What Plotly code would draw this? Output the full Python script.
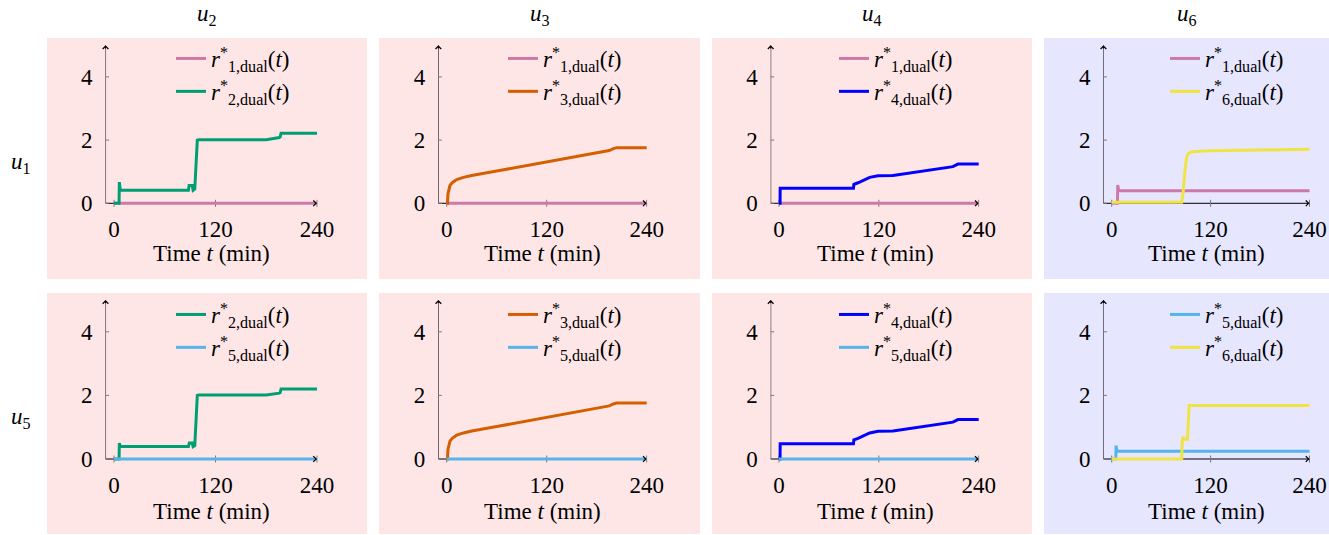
import plotly.graph_objects as go

# ---------------------------------------------------------------- data
X_TICKS = [0, 120, 240]
Y_TICKS = [0, 2, 4]
X_MIN, X_MAX, Y_MIN, Y_MAX = -10, 240, 0, 5

col_heads = ["2", "3", "4", "6"]
row_heads = ["1", "5"]

# zero rate over the whole horizon
t_zero = [0, 240]
r_zero = [0, 0]

# r2 (row u1)
t_r2_u1 = [0, 6, 6.3, 7.5, 88, 88.8, 92.5, 93.5, 95.5, 98.5, 100, 180, 195.5, 196.5, 197.5, 240]
r2_u1 = [0, 0, 0.67, 0.41, 0.41, 0.56, 0.56, 0.41, 0.45, 2.0, 2.01, 2.01, 2.08, 2.1, 2.22, 2.22]
# r2 (row u5)
t_r2_u5 = [0, 6, 6.3, 7.5, 88, 89, 92.5, 93.5, 95.5, 98.5, 100, 180, 195.5, 196.5, 197.5, 240]
r2_u5 = [0, 0, 0.5, 0.39, 0.39, 0.5, 0.5, 0.39, 0.42, 2.0, 2.01, 2.01, 2.07, 2.09, 2.2, 2.2]

# r3
t_r3 = [0, 1, 1.5, 2.5, 4, 7, 12, 20, 30, 60, 90, 120, 150, 180, 195, 200, 204, 240]
r3 = [0, 0, 0.3, 0.45, 0.57, 0.66, 0.75, 0.82, 0.88, 1.02, 1.16, 1.3, 1.44, 1.58, 1.67, 1.73, 1.76, 1.76]

# r4
t_r4 = [0, 1.3, 1.4, 89.5, 90, 95, 109, 119, 137, 209, 215, 240]
r4 = [0, 0, 0.48, 0.48, 0.6, 0.65, 0.82, 0.87, 0.88, 1.16, 1.24, 1.24]

# r1 (column u6)
t_r1_u6 = [0, 7, 7.3, 8.5, 240]
r1_u6 = [0, 0, 0.58, 0.4, 0.4]

# r6 (row u1)
t_r6_u1 = [0, 85, 86.5, 88, 89.5, 91, 93, 96, 100, 120, 180, 240]
r6_u1 = [0.03, 0.03, 0.3, 0.8, 1.2, 1.45, 1.57, 1.62, 1.64, 1.66, 1.68, 1.71]

# r5 (column u6)
t_r5_u6 = [0, 5, 5.3, 6.5, 240]
r5_u6 = [0, 0, 0.42, 0.24, 0.24]

# r6 (row u5)
t_r6_u5 = [0, 85, 85.5, 86.5, 87.5, 92, 93, 94, 240]
r6_u5 = [0, 0, 0.55, 0.7, 0.62, 0.62, 1.2, 1.68, 1.68]

C = {1: "#CC79A7", 2: "#009E73", 3: "#D55E00", 4: "#0000FF", 5: "#56B4E9", 6: "#F0E442"}

# (row, col, [(rate index, times, values), ...])
panels = [
    (0, 0, [(1, t_zero, r_zero), (2, t_r2_u1, r2_u1)]),
    (0, 1, [(1, t_zero, r_zero), (3, t_r3, r3)]),
    (0, 2, [(1, t_zero, r_zero), (4, t_r4, r4)]),
    (0, 3, [(1, t_r1_u6, r1_u6), (6, t_r6_u1, r6_u1)]),
    (1, 0, [(2, t_r2_u5, r2_u5), (5, t_zero, r_zero)]),
    (1, 1, [(3, t_r3, r3), (5, t_zero, r_zero)]),
    (1, 2, [(4, t_r4, r4), (5, t_zero, r_zero)]),
    (1, 3, [(5, t_r5_u6, r5_u6), (6, t_r6_u5, r6_u5)]),
]

# ---------------------------------------------------------------- geometry
W, H = 1329, 535
FONT = "Liberation Serif, Times New Roman, DejaVu Serif, serif"
FS = 23
PINK, LAVENDER = "#FFE6E6", "#E6E6FF"

col_x0 = [114, 446.7, 779, 1111.7]        # pixel of t = 0
col_x240 = [317, 646.7, 978.7, 1309.5]    # pixel of t = 240
row_y0 = [203.3, 459.0]                   # pixel of value 0
row_unit = [31.6, 31.8]                   # pixels per unit
bg_cols = [(47, 367), (379, 700), (712, 1032), (1044, 1329)]
bg_rows = [(38, 279), (293, 534)]
legend_text_x = [213, 545, 876, 1207]
legend_top = [37, 293]
head_y = 15
xtitle_y = [254, 511]
rowlab_y = [163, 418]
XR = [X_MIN, 241]
YR = [-0.15, 5.05]


def px(p):
    return p / W


def py(p):
    return 1 - p / H


fig = go.Figure()
layout = dict(
    width=W, height=H, autosize=False, margin=dict(l=0, r=0, t=0, b=0, autoexpand=False),
    paper_bgcolor="white", plot_bgcolor="rgba(0,0,0,0)",
    font=dict(family=FONT, size=FS, color="black"),
    showlegend=True,
)
shapes, annotations = [], []

# panel backgrounds
for r, (y0, y1) in enumerate(bg_rows):
    for c, (x0, x1) in enumerate(bg_cols):
        shapes.append(dict(type="rect", xref="paper", yref="paper",
                           x0=px(x0), x1=px(x1), y0=py(y1), y1=py(y0),
                           fillcolor=LAVENDER if c == 3 else PINK,
                           line=dict(width=0), layer="below"))

for i, (r, c, series) in enumerate(panels, start=1):
    sfx = "" if i == 1 else str(i)
    xa, ya = "x" + sfx, "y" + sfx
    lg = "legend" + sfx
    s = (col_x240[c] - col_x0[c]) / 240.0
    u = row_unit[r]
    dom_x = [px(col_x0[c] + s * XR[0]), px(col_x0[c] + s * XR[1])]
    dom_y = [py(row_y0[r] - YR[0] * u), py(row_y0[r] - YR[1] * u)]

    layout["xaxis" + sfx] = dict(domain=dom_x, range=XR, anchor=ya, tickvals=X_TICKS,
                                 ticks="", showgrid=False, zeroline=False, showline=False,
                                 ticklabelstandoff=5, automargin=False,
                                 tickfont=dict(family=FONT, size=FS, color="black"))
    layout["yaxis" + sfx] = dict(domain=dom_y, range=YR, anchor=xa, tickvals=Y_TICKS,
                                 ticks="", showgrid=False, zeroline=False, showline=False,
                                 ticklabelstandoff=12, automargin=False,
                                 tickfont=dict(family=FONT, size=FS, color="black"))

    for k, t, v in series:
        fig.add_trace(go.Scatter(
            x=t, y=v, mode="lines", xaxis=xa, yaxis=ya, legend=lg,
            line=dict(color=C[k], width=3),
            name=f"<i>r</i><sup>*</sup><sub>{k},dual</sub>(<i>t</i>)",
        ))

    layout[lg] = dict(x=px(legend_text_x[c] - 42), y=py(legend_top[r]),
                      xref="container", yref="container",
                      xanchor="left", yanchor="top", bgcolor="rgba(0,0,0,0)",
                      borderwidth=0, font=dict(family=FONT, size=FS, color="black"),
                      tracegroupgap=0)

    # axis lines
    shapes.append(dict(type="line", xref=xa, yref=ya, x0=X_MIN, x1=X_MAX, y0=0, y1=0,
                       line=dict(color="black", width=1), layer="below"))
    shapes.append(dict(type="line", xref=xa, yref=ya, x0=X_MIN, x1=X_MIN, y0=Y_MIN, y1=Y_MAX,
                       line=dict(color="black", width=1), layer="below"))
    # tick marks crossing the axes
    for tv in X_TICKS:
        shapes.append(dict(type="line", xref=xa, yref=ya, ysizemode="pixel", yanchor=0,
                           x0=tv, x1=tv, y0=-3.5, y1=3.5,
                           line=dict(color="#7a7a7a", width=1), layer="below"))
    for tv in Y_TICKS:
        shapes.append(dict(type="line", xref=xa, yref=ya, xsizemode="pixel", xanchor=X_MIN,
                           x0=-3.5, x1=3.5, y0=tv, y1=tv,
                           line=dict(color="#7a7a7a", width=1), layer="below"))
    # arrow tips
    annotations.append(dict(x=X_MAX, y=0, ax=X_MAX - 4, ay=0, xref=xa, yref=ya,
                            axref=xa, ayref=ya, text="", showarrow=True,
                            arrowhead=4, arrowsize=1.1, arrowwidth=1, arrowcolor="black"))
    annotations.append(dict(x=X_MIN, y=Y_MAX, ax=X_MIN, ay=Y_MAX - 0.15, xref=xa, yref=ya,
                            axref=xa, ayref=ya, text="", showarrow=True,
                            arrowhead=4, arrowsize=1.1, arrowwidth=1, arrowcolor="black"))
    # x axis title
    annotations.append(dict(x=0.5, y=py(xtitle_y[r]), xref=xa + " domain", yref="paper",
                            text="Time <i>t</i> (min)", showarrow=False,
                            xanchor="center", yanchor="middle",
                            font=dict(family=FONT, size=FS, color="black")))

# column and row headings
for c, h in enumerate(col_heads):
    annotations.append(dict(x=px((bg_cols[c][0] + bg_cols[c][1]) / 2), y=py(head_y),
                            xref="paper", yref="paper", text=f"<i>u</i><sub>{h}</sub>",
                            showarrow=False, xanchor="center", yanchor="middle",
                            font=dict(family=FONT, size=FS, color="black")))
for r, h in enumerate(row_heads):
    annotations.append(dict(x=px(21), y=py(rowlab_y[r]), xref="paper", yref="paper",
                            text=f"<i>u</i><sub>{h}</sub>", showarrow=False,
                            xanchor="center", yanchor="middle",
                            font=dict(family=FONT, size=FS, color="black")))

layout["shapes"] = shapes
layout["annotations"] = annotations
fig.update_layout(**layout)
fig.write_html("out.html",
               post_script="document.body.style.margin='0';"
                           "document.body.style.overflow='hidden';")
